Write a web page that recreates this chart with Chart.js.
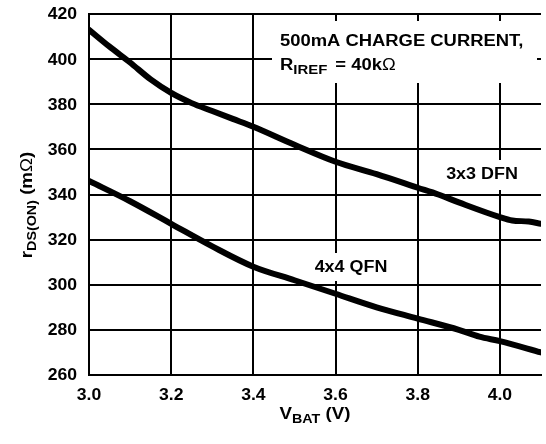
<!DOCTYPE html>
<html><head><meta charset="utf-8">
<script src="https://cdn.jsdelivr.net/npm/chart.js@4"></script>
<style>html,body{margin:0;padding:0;background:#fff}#wrap{width:546px;height:444px}</style>
</head><body><div id="wrap"><canvas id="c" width="546" height="444"></canvas></div>
<script>
const xTicks = [3.0, 3.2, 3.4, 3.6, 3.8, 4.0];
const yTicks = [260, 280, 300, 320, 340, 360, 380, 400, 420];
const dfnV = [3.0, 3.05, 3.1, 3.15, 3.2, 3.25, 3.3, 3.35, 3.4, 3.5, 3.6, 3.7, 3.8, 3.85, 3.9, 4.0, 4.03, 4.07, 4.1];
const dfnR = [413, 405.5, 398.5, 391, 385, 380.5, 377, 373.5, 370, 362, 354.5, 349, 343, 340, 336.5, 330, 328.5, 328, 327];
const qfnV = [3.0, 3.1, 3.2, 3.3, 3.4, 3.5, 3.6, 3.7, 3.8, 3.9, 3.95, 4.0, 4.1];
const qfnR = [346, 337, 327, 317, 308, 302, 296, 290, 285, 280, 277, 275, 270];
const seriesLabels = ['3x3 DFN', '4x4 QFN'];
const FONT = '"Liberation Sans", Arial, sans-serif';

function pts(xs, ys){ return xs.map((x,i)=>({x:x, y:ys[i]})); }

function runWidth(ctx, segs, hs){
  let w = 0;
  segs.forEach(s=>{ ctx.font = (s.weight||'bold')+' '+s.size+'px '+FONT; w += ctx.measureText(s.t).width*hs + (s.gap||0); });
  return w;
}
function drawRun(ctx, segs, x, y, hs, align){
  const w = runWidth(ctx, segs, hs);
  let cx = align==='center' ? x - w/2 : align==='right' ? x - w : x;
  segs.forEach(s=>{
    ctx.font = (s.weight||'bold')+' '+s.size+'px '+FONT;
    const sw = ctx.measureText(s.t).width*hs;
    ctx.save();
    ctx.translate(cx, y + (s.dy||0));
    ctx.scale(hs, 1);
    ctx.textAlign = 'left';
    ctx.fillText(s.t, 0, 0);
    ctx.restore();
    cx += sw + (s.gap||0);
  });
}

const annot = {
  id:'annot',
  beforeDatasetsDraw(chart){
    const ctx = chart.ctx;
    ctx.save();
    ctx.fillStyle = '#fff';
    ctx.fillRect(272, 21, 265, 62);
    ctx.fillRect(438, 160, 88, 30);
    ctx.fillRect(305, 253, 90, 28);
    ctx.restore();
  },
  afterDraw(chart){
    const ctx = chart.ctx, xs = chart.scales.x, ys = chart.scales.y;
    ctx.save();
    ctx.fillStyle = '#000';

    ctx.textBaseline = 'middle';
    yTicks.forEach(v=>{
      drawRun(ctx, [{t:String(v), size:16}], 77, ys.getPixelForValue(v)+1, 1.1, 'right');
    });
    xTicks.forEach(v=>{
      drawRun(ctx, [{t:v.toFixed(1), size:16}], xs.getPixelForValue(v), 396, 1.1, 'center');
    });

    ctx.textBaseline = 'alphabetic';
    drawRun(ctx, [{t:'500mA CHARGE CURRENT,', size:16}], 280, 46, 1.15, 'left');
    drawRun(ctx, [{t:'R', size:16}, {t:'IREF', size:13, dy:4, gap:8}, {t:'= 40k', size:16}, {t:'\u03A9', size:16, weight:'normal'}], 280, 70, 1.15, 'left');

    ctx.textBaseline = 'middle';
    drawRun(ctx, [{t:seriesLabels[0], size:16}], 482, 175, 1.12, 'center');
    drawRun(ctx, [{t:seriesLabels[1], size:16}], 351, 268, 1.12, 'center');

    ctx.textBaseline = 'alphabetic';
    drawRun(ctx, [{t:'V', size:17}, {t:'BAT', size:13, dy:4}, {t:' (V)', size:17}], 315, 419, 1.1, 'center');

    ctx.save();
    ctx.translate(32, 205);
    ctx.rotate(-Math.PI/2);
    drawRun(ctx, [{t:'r', size:17}, {t:'DS(ON)', size:13, dy:4}, {t:' (m', size:17}, {t:'\u03A9', size:17, weight:'normal'}, {t:')', size:17}], 0, 0, 1.1, 'center');
    ctx.restore();
    ctx.restore();
  }
};

new Chart(document.getElementById('c'), {
  type: 'scatter',
  data: {
    datasets: [
      {label: seriesLabels[0], data: pts(dfnV, dfnR), showLine: true, borderColor:'#000', borderWidth:6, pointRadius:0, cubicInterpolationMode:'monotone', borderCapStyle:'round'},
      {label: seriesLabels[1], data: pts(qfnV, qfnR), showLine: true, borderColor:'#000', borderWidth:6, pointRadius:0, cubicInterpolationMode:'monotone', borderCapStyle:'round'}
    ]
  },
  options: {
    responsive: false,
    animation: false,
    devicePixelRatio: 1,
    layout: {padding: {left: 0, right: 5, top: 14, bottom: 0}},
    plugins: {legend: {display:false}, tooltip:{enabled:false}},
    scales: {
      x: {
        type:'linear', min: 3.0, max: 4.1,
        afterBuildTicks(s){ s.ticks = xTicks.map(v=>({value:v})); },
        afterFit(s){ s.height = 69; },
        grid: {color:'#000', lineWidth:2, drawTicks:false},
        border: {color:'#000', width:2},
        ticks: {display:false}
      },
      y: {
        type:'linear', min: 260, max: 420,
        afterBuildTicks(s){ s.ticks = yTicks.map(v=>({value:v})); },
        afterFit(s){ s.width = 89; },
        grid: {color:'#000', lineWidth:2, drawTicks:false},
        border: {color:'#000', width:2},
        ticks: {display:false}
      }
    }
  },
  plugins: [annot]
});
</script></body></html>
